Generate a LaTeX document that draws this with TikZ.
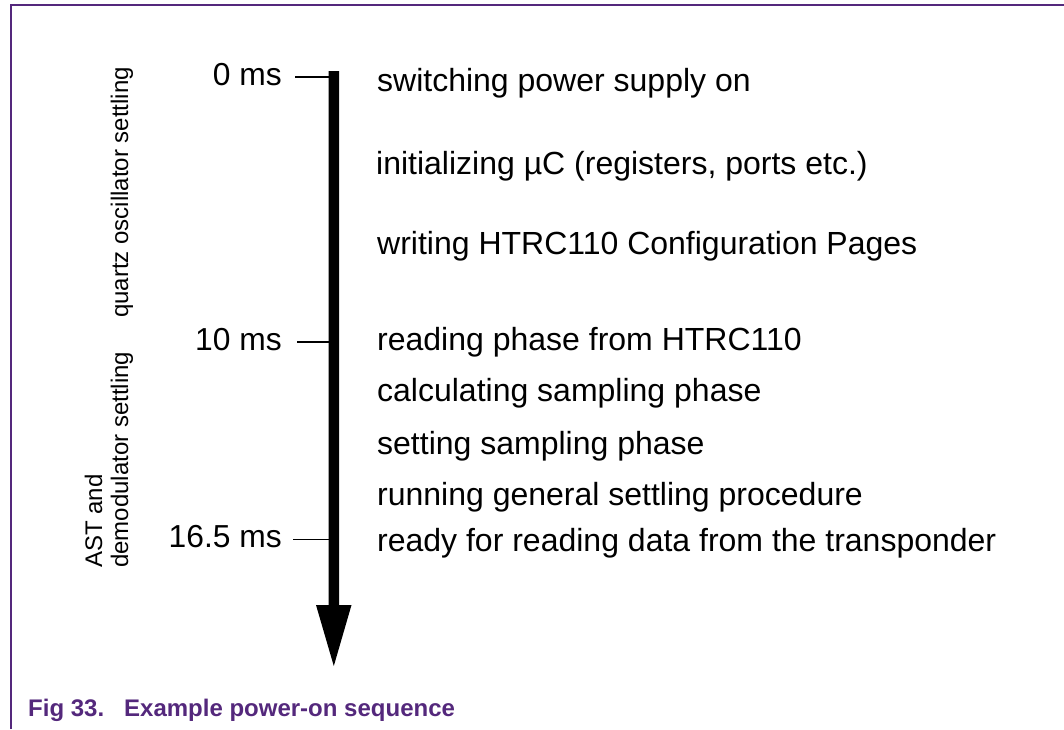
\documentclass[tikz,border=0pt]{standalone}
\usepackage{fontspec}
\setmainfont{Liberation Sans}
\definecolor{nxppurple}{RGB}{84,40,124}
\begin{document}
\begin{tikzpicture}[x=1pt,y=-1pt,
  txt/.style={font=\fontsize{32}{38}\selectfont, inner sep=0pt, anchor=base west},
  tlabel/.style={font=\fontsize{31.8}{38}\selectfont, inner sep=0pt, anchor=base east},
  side/.style={font=\fontsize{24}{28}\selectfont, inner sep=0pt, rotate=90, anchor=base west},
  tickline/.style={line width=1.6pt},
  frameline/.style={draw=nxppurple, line width=1.3pt},
  captxt/.style={font=\fontsize{24}{28}\selectfont\bfseries, text=nxppurple, inner sep=0pt, anchor=base west}]
\useasboundingbox (0,0) rectangle (1064,729);
% frame
\draw[frameline] (11,729) -- (11,5) -- (1064,5);
% time arrow
\fill[black] (328.5,71) -- (339,71) -- (339,605) -- (351.5,605) -- (333.8,666)
  -- (316,605) -- (328.5,605) -- cycle;
% time labels and ticks
\node[tlabel] (l0) at (282,85) {0 ms};
\node[tlabel] (l10) at (282,350) {10 ms};
\node[tlabel] (l16) at (282,547) {16.5 ms};
\coordinate (t0s) at (295,77);   \coordinate (t0e) at (329,77);
\coordinate (t10s) at (297,342); \coordinate (t10e) at (329,342);
\coordinate (t16s) at (293,539.5); \coordinate (t16e) at (329,539.5);
\draw[tickline] (t0s) -- (t0e);
\draw[tickline] (t10s) -- (t10e);
\draw[tickline] (t16s) -- (t16e);
% steps
\node[txt] (s1) at (377,91) {switching power supply on};
\node[txt] (s2) at (376,174) {initializing µC (registers, ports etc.)};
\node[txt] (s3) at (377,254) {writing HTRC110 Configuration Pages};
\node[txt] (s4) at (377,350) {reading phase from HTRC110};
\node[txt] (s5) at (377,401) {calculating sampling phase};
\node[txt] (s6) at (377,454) {setting sampling phase};
\node[txt] (s7) at (377,505) {running general settling procedure};
\node[txt] (s8) at (377,551) {ready for reading data from the transponder};
% side labels
\node[side] (q) at (128,318) {quartz oscillator settling};
\node[side] (ast) at (102,568) {AST and};
\node[side] (dem) at (128,568) {demodulator settling};
% caption
\node[captxt] (fig) at (28,716.5) {Fig 33.};
\node[captxt] (figt) at (124,716.5) {Example power-on sequence};
\end{tikzpicture}
\end{document}
